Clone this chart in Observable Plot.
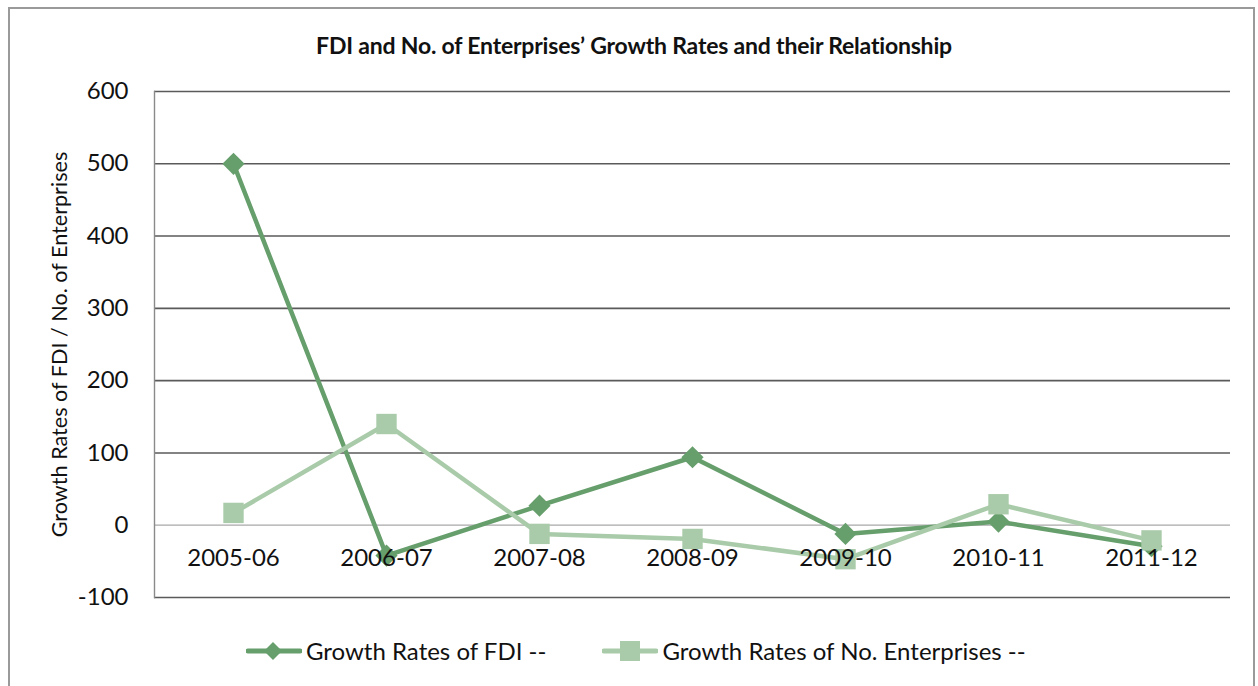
<!DOCTYPE html>
<html>
<head>
<meta charset="utf-8">
<script src="https://cdn.jsdelivr.net/npm/d3@7"></script>
<script src="https://cdn.jsdelivr.net/npm/@observablehq/plot@0.6"></script>
<style>
  html, body { margin: 0; padding: 0; background: #fff; }
  #wrap { position: relative; width: 1258px; height: 686px; overflow: hidden; font-family: Lato, "Open Sans", sans-serif; }
  #border { position: absolute; left: 8px; top: 7px; width: 1247px; height: 700px; border: 2px solid #9a9a9a; box-sizing: border-box; }
  #title { position: absolute; left: 0; width: 1268px; top: 31px; text-align: center; font-size: 23px; font-weight: bold; color: #111; letter-spacing: -0.2px; }
  #chart { position: absolute; left: 0; top: 0; }
  #legend { position: absolute; top: 636px; left: 246px; display: flex; align-items: center; font-size: 24px; color: #111; line-height: 30px; }
  .item { display: flex; align-items: center; }
  .item svg { margin-right: 4px; }
</style>
</head>
<body>
<div id="wrap">
  <div id="border"></div>
  <div id="chart"></div>
  <div id="title"></div>
  <div id="legend"></div>
</div>
<script>
const titleText = "FDI and No. of Enterprises’ Growth Rates and their Relationship";
const yLabel = "Growth Rates of FDI / No. of Enterprises";
const categories = ["2005-06", "2006-07", "2007-08", "2008-09", "2009-10", "2010-11", "2011-12"];
const fdiGrowth = [500, -42, 27, 94, -12, 5, -29];
const enterpriseGrowth = [17, 140, -12, -19, -47, 29, -21];
const yTicks = [-100, 0, 100, 200, 300, 400, 500, 600];
const seriesNames = ["Growth Rates of FDI --", "Growth Rates of No. Enterprises --"];
const colors = ["#669e6c", "#a9cba9"];

const fdi = categories.map((c, i) => ({cat: c, v: fdiGrowth[i]}));
const ent = categories.map((c, i) => ({cat: c, v: enterpriseGrowth[i]}));

document.getElementById("title").textContent = titleText;

const plot = Plot.plot({
  width: 1258,
  height: 686,
  marginTop: 91,
  marginBottom: 89,
  marginLeft: 154,
  marginRight: 28,
  style: {fontFamily: "Lato, 'Open Sans', sans-serif", background: "transparent", color: "#111"},
  x: {type: "point", domain: categories, padding: 0.5, axis: null},
  y: {domain: [-100, 600], axis: null},
  marks: [
    Plot.ruleY(yTicks.filter(t => t !== 0), {stroke: "#5a5a5a", strokeWidth: 1.6}),
    Plot.ruleY([0], {stroke: "#a8a8a8", strokeWidth: 1.2}),
    Plot.frame({anchor: "left", stroke: "#8a8a8a", strokeWidth: 1.4}),
    Plot.axisY(yTicks, {tickSize: 0, tickPadding: 26, fontSize: 24, label: null, fill: "#111", tickFormat: d => String(d)}),
    Plot.text([yLabel], {frameAnchor: "left", textAnchor: "middle", rotate: -90, dx: -94, fontSize: 21.6, fill: "#111"}),
    Plot.line(fdi, {x: "cat", y: "v", stroke: colors[0], strokeWidth: 4.5}),
    Plot.dot(fdi, {x: "cat", y: "v", symbol: "diamond2", r: 10, fill: colors[0], stroke: "none"}),
    Plot.line(ent, {x: "cat", y: "v", stroke: colors[1], strokeWidth: 4.5}),
    Plot.dot(ent, {x: "cat", y: "v", symbol: "square", r: 11.5, fill: colors[1], stroke: "none"}),
    Plot.text(categories, {x: d => d, y: () => 0, dy: 33, fontSize: 24, fill: "#111"})
  ]
});
document.getElementById("chart").appendChild(plot);

// Legend
const legend = document.getElementById("legend");
seriesNames.forEach((name, i) => {
  const item = document.createElement("div");
  item.className = "item";
  if (i > 0) item.style.marginLeft = "56px";
  const sym = i === 0
    ? `<path d="M27,2 L36,11 L27,20 L18,11 Z" fill="${colors[0]}"/>`
    : `<rect x="18" y="1" width="20" height="20" fill="${colors[1]}"/>`;
  item.innerHTML = `<svg width="56" height="22"><line x1="2" y1="11" x2="54" y2="11" stroke="${colors[i]}" stroke-width="5" stroke-linecap="round"/>${sym}</svg><span>${name}</span>`;
  legend.appendChild(item);
});
</script>
</body>
</html>
